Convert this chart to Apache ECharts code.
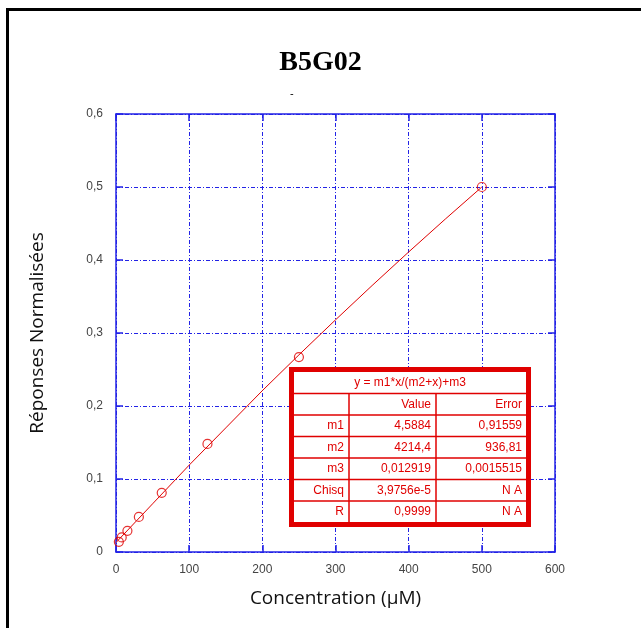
<!DOCTYPE html>
<html><head><meta charset="utf-8">
<script src="https://cdn.jsdelivr.net/npm/echarts@6/dist/echarts.min.js"></script>
<style>html,body{margin:0;padding:0;background:#fff}#c{width:641px;height:628px}</style>
</head><body><div id="c"></div>
<script>
const concX = [3.9, 7.8, 15.6, 31.25, 62.5, 125, 250, 500];
const respY = [0.014, 0.020, 0.029, 0.048, 0.081, 0.148, 0.267, 0.500];
const fitX = [0, 50, 100, 150, 200, 250, 300, 350, 400, 450, 500];
const fitY = [0.013, 0.066, 0.119, 0.170, 0.221, 0.270, 0.318, 0.365, 0.411, 0.456, 0.500];
const xTicks = [0, 100, 200, 300, 400, 500, 600];
const yTicks = [0, 0.1, 0.2, 0.3, 0.4, 0.5, 0.6];
const tableHeader = 'y = m1*x/(m2+x)+m3';
const tableCols = ['', 'Value', 'Error'];
const tableLabels = ['m1', 'm2', 'm3', 'Chisq', 'R'];
const tableValues = ['4,5884', '4214,4', '0,012919', '3,9756e-5', '0,9999'];
const tableErrors = ['0,91559', '936,81', '0,0015515', 'N A', 'N A'];

const blue = '#2323e6';
const red = '#e00000';
const chart = echarts.init(document.getElementById('c'));
const lblFont = {color: '#444', fontSize: 12, fontFamily: 'Liberation Sans, Arial'};

function axisBase(show) {
  return {
    type: 'value', min: 0,
    axisLine: {show: true, onZero: false, lineStyle: {color: blue, width: 1.5}},
    axisTick: {show: true, inside: true, length: 7, lineStyle: {color: blue, width: 1.5}},
    splitLine: {show: show, lineStyle: {color: blue, width: 1, type: [4, 2, 1, 2]}},
  };
}

const tx0 = 294, tx1 = 349, tx2 = 436, tx3 = 526;
const ty0 = 372, rowH = 21.5;
const g = [];
g.push({type: 'rect', shape: {x: 7.5, y: 9.5, width: 720, height: 720}, style: {fill: 'none', stroke: '#000', lineWidth: 3}, silent: true});
g.push({type: 'text', left: 'center', top: 49, style: {text: 'B5G02', font: 'bold 28px "Liberation Serif", "Times New Roman", serif', fill: '#000'}});
g.push({type: 'text', x: 290, y: 88, style: {text: '-', font: '11px "Liberation Sans"', fill: '#000'}});
g.push({type: 'rect', shape: {x: 291.5, y: 369.5, width: 237, height: 155}, style: {fill: '#fff', stroke: red, lineWidth: 5}, z: 100});
for (let r = 1; r <= 6; r++) {
  const y = ty0 + r * rowH;
  g.push({type: 'line', shape: {x1: tx0, y1: y, x2: tx3, y2: y}, style: {stroke: red, lineWidth: 1.5}, z: 101});
}
[tx1, tx2].forEach(x => g.push({type: 'line', shape: {x1: x, y1: ty0 + rowH, x2: x, y2: ty0 + 7 * rowH}, style: {stroke: red, lineWidth: 1.5}, z: 101}));
const tf = '12px "Liberation Sans", Arial';
g.push({type: 'text', x: (tx0 + tx3) / 2, y: ty0 + rowH / 2, style: {text: tableHeader, font: tf, fill: red, align: 'center', verticalAlign: 'middle'}, z: 102});
g.push({type: 'text', x: tx2 - 5, y: ty0 + 1.5 * rowH, style: {text: tableCols[1], font: tf, fill: red, align: 'right', verticalAlign: 'middle'}, z: 102});
g.push({type: 'text', x: tx3 - 4, y: ty0 + 1.5 * rowH, style: {text: tableCols[2], font: tf, fill: red, align: 'right', verticalAlign: 'middle'}, z: 102});
tableLabels.forEach((lab, i) => {
  const y = ty0 + (i + 2.5) * rowH;
  g.push({type: 'text', x: tx1 - 5, y: y, style: {text: lab, font: tf, fill: red, align: 'right', verticalAlign: 'middle'}, z: 102});
  g.push({type: 'text', x: tx2 - 5, y: y, style: {text: tableValues[i], font: tf, fill: red, align: 'right', verticalAlign: 'middle'}, z: 102});
  g.push({type: 'text', x: tx3 - 4, y: y, style: {text: tableErrors[i], font: tf, fill: red, align: 'right', verticalAlign: 'middle'}, z: 102});
});

chart.setOption({
  backgroundColor: '#fff',
  animation: false,
  grid: {left: 116, right: 86, top: 114, bottom: 76},
  xAxis: [
    Object.assign(axisBase(true), {max: 600, interval: 100, position: 'bottom',
      name: 'Concentration (\u00b5M)', nameLocation: 'middle', nameGap: 37,
      nameTextStyle: {fontSize: 19, color: '#111', fontFamily: 'Open Sans, Noto Sans'},
      axisLabel: Object.assign({margin: 12, formatter: v => xTicks.includes(v) ? String(v) : ''}, lblFont)}),
    Object.assign(axisBase(false), {max: 600, interval: 100, position: 'top', axisLabel: {show: false}})
  ],
  yAxis: [
    Object.assign(axisBase(true), {max: 0.6, interval: 0.1, position: 'left',
      name: 'Réponses Normalisées', nameLocation: 'middle', nameGap: 69, nameRotate: 90,
      nameTextStyle: {fontSize: 19, color: '#111', fontFamily: 'Open Sans, Noto Sans'},
      axisLabel: Object.assign({margin: 13, formatter: v => { const t = yTicks.find(k => Math.abs(k - v) < 1e-9); return t === undefined ? '' : (t === 0 ? '0' : t.toFixed(1).replace('.', ',')); }}, lblFont)}),
    Object.assign(axisBase(false), {max: 0.6, interval: 0.1, position: 'right', axisLabel: {show: false}})
  ],
  series: [
    {type: 'line', data: fitX.map((x, i) => [x, fitY[i]]), showSymbol: false, symbol: 'none',
     lineStyle: {color: red, width: 1}, z: 3},
    {type: 'scatter', data: concX.map((x, i) => [x, respY[i]]), symbol: 'circle', symbolSize: 9,
     itemStyle: {color: 'rgba(0,0,0,0)', borderColor: red, borderWidth: 1.2}, z: 4}
  ],
  graphic: g
});
</script></body></html>
